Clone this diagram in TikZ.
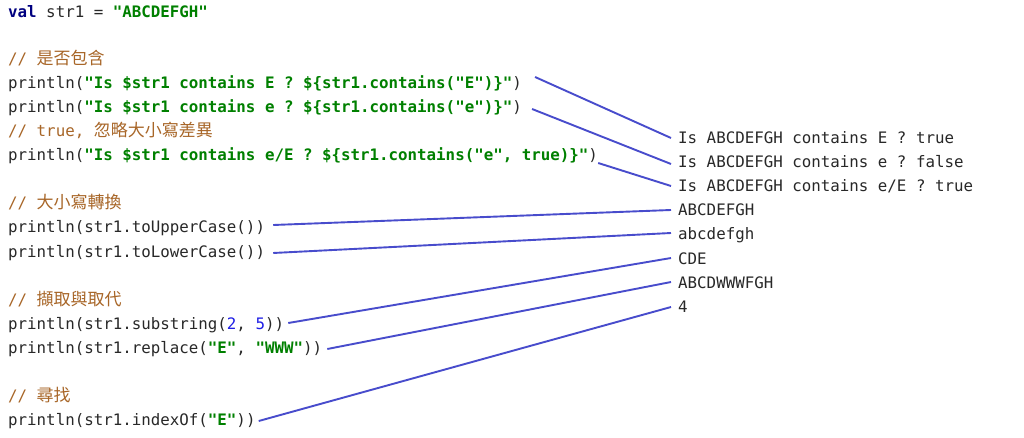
\documentclass[tikz,border=0pt]{standalone}
\usepackage{fontspec}
\setmonofont{DejaVu Sans Mono}
\newfontfamily\cjk{Noto Sans CJK TC}
\definecolor{kwnavy}{RGB}{0,0,128}
\definecolor{strgreen}{RGB}{0,128,0}
\definecolor{cmtbrown}{RGB}{168,102,40}
\definecolor{numblue}{RGB}{30,30,230}
\definecolor{plain}{RGB}{40,40,40}
\definecolor{linkblue}{RGB}{72,76,204}
\newcommand{\kw}[1]{\textcolor{kwnavy}{\textbf{#1}}}
\newcommand{\strg}[1]{\textcolor{strgreen}{\textbf{#1}}}
\newcommand{\numb}[1]{\textcolor{numblue}{#1}}
\newcommand{\cmt}[1]{\textcolor{cmtbrown}{#1}}
\newcommand{\zh}[1]{{\cjk\fontsize{17}{24}\selectfont #1}}
\begin{document}
\begin{tikzpicture}[x=1pt, y=-1pt,
    code/.style={anchor=base west, inner sep=0pt, text height=13pt, text depth=1pt,
        text=plain, font=\ttfamily\fontsize{15.8}{24}\selectfont},
    result/.style={code},
    link/.style={draw=linkblue, line width=1.9pt}]
    \useasboundingbox[fill=white] (0,0) rectangle (1024,438);
    % code
    \node[code] (cVal) at (8,18) {\kw{val} str1 = \strg{"ABCDEFGH"}};
    \node[code] (cmtHas) at (8,65) {\cmt{// \zh{是否包含}}};
    \node[code] (cE) at (8,89) {println(\strg{"Is \$str1 contains E ? \$\{str1.contains("E")\}"})};
    \node[code] (ce) at (8,113) {println(\strg{"Is \$str1 contains e ? \$\{str1.contains("e")\}"})};
    \node[code] (cmtCase) at (8,137) {\cmt{// true, \zh{忽略大小寫差異}}};
    \node[code] (ceE) at (8,161) {println(\strg{"Is \$str1 contains e/E ? \$\{str1.contains("e", true)\}"})};
    \node[code] (cmtConv) at (8,209) {\cmt{// \zh{大小寫轉換}}};
    \node[code] (cUp) at (8,233) {println(str1.toUpperCase())};
    \node[code] (cLow) at (8,257) {println(str1.toLowerCase())};
    \node[code] (cmtSub) at (8,305) {\cmt{// \zh{擷取與取代}}};
    \node[code] (cSub) at (8,329) {println(str1.substring(\numb{2}, \numb{5}))};
    \node[code] (cRep) at (8,353) {println(str1.replace(\strg{"E"}, \strg{"WWW"}))};
    \node[code] (cmtFind) at (8,401) {\cmt{// \zh{尋找}}};
    \node[code] (cIdx) at (8,425) {println(str1.indexOf(\strg{"E"}))};
    % output
    \node[result] (oE) at (678,144) {Is ABCDEFGH contains E ? true};
    \node[result] (oe) at (678,168) {Is ABCDEFGH contains e ? false};
    \node[result] (oeE) at (678,192) {Is ABCDEFGH contains e/E ? true};
    \node[result] (oUp) at (678,216) {ABCDEFGH};
    \node[result] (oLow) at (678,240) {abcdefgh};
    \node[result] (oSub) at (678,264) {CDE};
    \node[result] (oRep) at (678,288) {ABCDWWWFGH};
    \node[result] (oIdx) at (678,312) {4};
    % links
    \draw[link] ([xshift=13pt,yshift=6pt]cE.east) -- ([xshift=-7pt]oE.west);
    \draw[link] ([xshift=10pt,yshift=-2pt]ce.east) -- ([xshift=-7pt,yshift=-2pt]oe.west);
    \draw[link] ([xshift=0pt,yshift=-8pt]ceE.east) -- ([xshift=-7pt]oeE.west);
    \draw[link] ([xshift=8pt,yshift=2pt]cUp.east) -- ([xshift=-7pt]oUp.west);
    \draw[link] ([xshift=8pt,yshift=-2pt]cLow.east) -- ([xshift=-7pt,yshift=1pt]oLow.west);
    \draw[link] ([xshift=4pt]cSub.east) -- ([xshift=-7pt]oSub.west);
    \draw[link] ([xshift=5pt,yshift=-2pt]cRep.east) -- ([xshift=-7pt]oRep.west);
    \draw[link] ([xshift=3pt,yshift=-2pt]cIdx.east) -- ([xshift=-7pt,yshift=-1pt]oIdx.west);
\end{tikzpicture}
\end{document}
